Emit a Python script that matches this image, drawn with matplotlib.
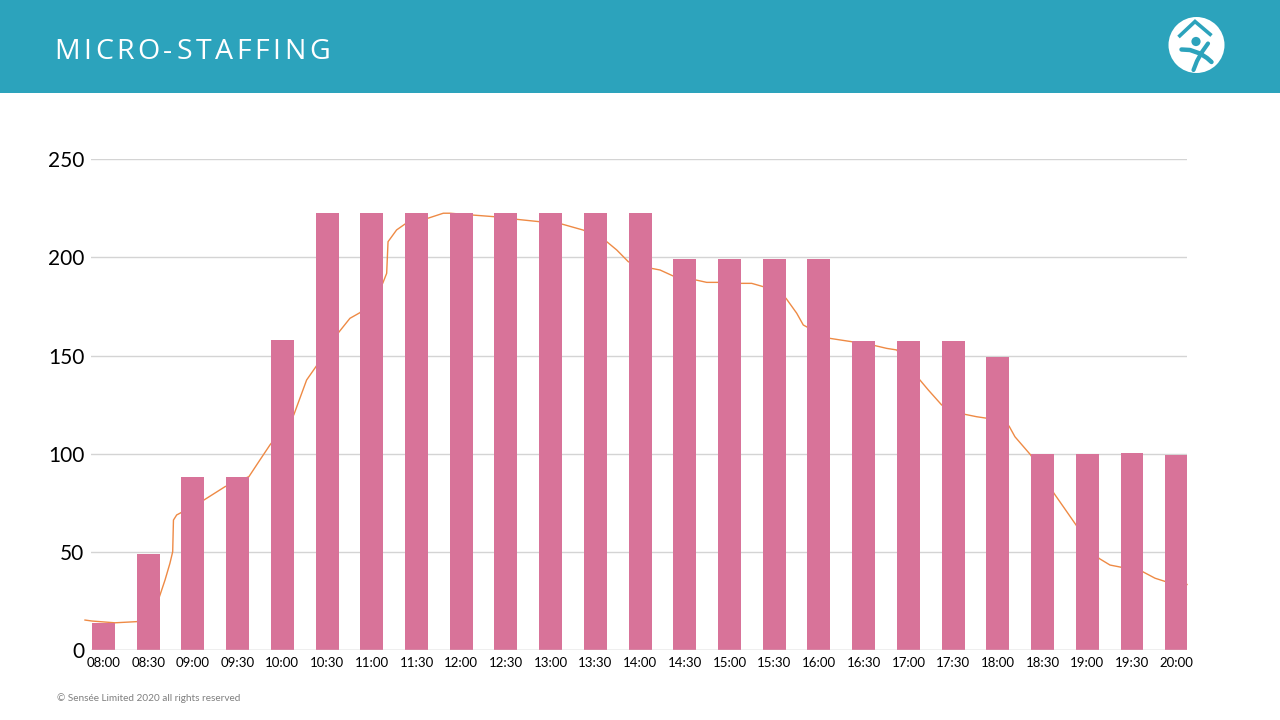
import matplotlib
matplotlib.use("Agg")
import matplotlib.pyplot as plt
from matplotlib.patches import Rectangle, Circle

# ---------------- data ----------------
categories = ["08:00", "08:30", "09:00", "09:30", "10:00", "10:30", "11:00", "11:30",
              "12:00", "12:30", "13:00", "13:30", "14:00", "14:30", "15:00", "15:30",
              "16:00", "16:30", "17:00", "17:30", "18:00", "18:30", "19:00", "19:30", "20:00"]
staff = [14, 49, 88, 88, 158, 222.5, 222.5, 222.5, 222.5, 222.5, 222.5, 222.5, 222.5,
         199.3, 199.3, 199.3, 199.3, 157.5, 157.5, 157.5, 149.3, 100, 100, 100.5, 99.5]

# demand curve: minutes after 08:00 and value
line_minutes = [0, 4.6, 19.6, 34.0, 48.3, 52.3, 55.5, 57.3, 57.8, 59.9, 62.1, 77.7, 91.5,
                107.1, 114.3, 120.9, 136.4, 144.8, 150.9, 165.3, 173.1, 179.7, 194.5, 197.1,
                198.0, 203.6, 209.1, 223.9, 234.1, 238.5, 252.8, 267.9, 282.0, 296.8, 311.5,
                325.6, 340.9, 347.4, 355.0, 369.6, 375.7, 384.4, 399.2, 406.2, 413.8, 428.4,
                435.6, 443.2, 458.0, 465.0, 469.3, 472.6, 486.7, 493.3, 500.9, 516.1, 523.8,
                530.3, 545.5, 551.0, 559.7, 575.0, 582.6, 589.5, 603.7, 607.6, 617.9, 633.1,
                639.2, 647.5, 662.5, 669.7, 676.9, 691.1, 699.1, 706.3, 720]
line_values = [15.4, 14.9, 14.0, 14.6, 26.5, 35.8, 44.3, 50.2, 66.3, 68.9, 69.8, 76.5, 83.3,
               88.4, 96.9, 104.6, 119.8, 137.6, 144.4, 161.4, 169.0, 171.9, 186.8, 191.9,
               208.0, 214.0, 217.0, 219.9, 222.5, 222.5, 221.6, 220.7, 219.4, 218.2, 217.0,
               213.9, 208.0, 203.8, 197.8, 194.5, 193.6, 190.5, 188.5, 187.3, 187.3, 186.8,
               186.8, 185.1, 179.2, 171.6, 165.6, 164.2, 158.8, 158.0, 157.1, 155.1, 153.7,
               152.9, 137.6, 132.5, 124.9, 120.1, 118.9, 118.1, 114.2, 108.7, 99.4, 79.9,
               73.1, 63.8, 46.8, 43.4, 42.3, 40.0, 36.7, 34.9, 33.5]
y_ticks = [0, 50, 100, 150, 200, 250]

title = "MICRO-STAFFING"
footer = "© Sensée Limited 2020 all rights reserved"

# ---------------- styles ----------------
TEAL = "#2CA3BC"
PINK = "#D87399"
ORANGE = "#EE8A45"
GRID = "#D4D4D4"

W, H = 1280, 720
fig = plt.figure(figsize=(W / 100, H / 100), dpi=100)
fig.patch.set_facecolor("white")


def fx(px):
    return px / W


def fy(py):
    return 1 - py / H


# header band
fig.patches.append(Rectangle((0, fy(93)), 1, 93 / H, transform=fig.transFigure,
                             facecolor=TEAL, edgecolor="none", zorder=0))

# letter-spaced title
renderer = fig.canvas.get_renderer()
tracking = 3.6  # px between letters
cursor = 54.0
for ch in title:
    t = fig.text(fx(cursor), fy(52), ch, color="white", fontsize=20.5,
                 family="Open Sans", va="center", ha="left", zorder=5)
    w = t.get_window_extent(renderer=renderer).width
    cursor += w + tracking

# logo
logo = fig.add_axes([fx(1166), fy(75), 60 / W, 60 / H], zorder=10)
logo.set_xlim(0, 60)
logo.set_ylim(60, 0)
logo.axis("off")
logo.add_patch(Circle((30.5, 30), 28, facecolor="white", edgecolor="none"))
logo.plot([12.5, 29, 45.5], [22, 6.5, 20.5], color=TEAL, lw=2.6, solid_capstyle="butt",
          solid_joinstyle="miter")
logo.add_patch(Circle((30, 26.5), 4.6, facecolor=TEAL, edgecolor="none"))
logo.plot([15.5, 24, 34, 41, 45.5], [34.5, 35, 38.5, 43, 47], color=TEAL, lw=3.2,
          solid_capstyle="round")
logo.plot([42, 36, 31, 27.5], [28.5, 37, 46, 55], color=TEAL, lw=3.0,
          solid_capstyle="round")

# main plot area
L, R, T, B = 90.5, 1187, 159.2, 650.3
ax = fig.add_axes([fx(L), fy(B), (R - L) / W, (B - T) / H])
ax.set_ylim(0, 250)
ax.set_xlim(3.6, 720)
ax.set_yticks(y_ticks)
ax.yaxis.grid(True, color=GRID, lw=1)
ax.set_axisbelow(True)
for s in ax.spines.values():
    s.set_visible(False)
ax.tick_params(axis="y", length=0, pad=4.5, labelsize=15, labelcolor="black")
ax.set_xticks([])
for lab in ax.get_yticklabels():
    lab.set_family("Lato")
ax.plot(line_minutes, line_values, color=ORANGE, lw=1.0, clip_on=False, zorder=2)

# bars on a twin axis (drawn over the line)
ax2 = ax.twiny()
x = list(range(len(categories)))
ax2.set_xlim(-0.29, len(categories) - 1 + 0.23)
ax2.bar(x, staff, width=0.514, color=PINK, zorder=3)
ax2.xaxis.set_ticks_position("bottom")
ax2.xaxis.set_label_position("bottom")
ax2.set_xticks(x)
ax2.set_xticklabels(categories, fontsize=9.5, family="Lato")
ax2.tick_params(axis="x", length=0, pad=5)
for s in ax2.spines.values():
    s.set_visible(False)
ax2.axhline(0, color=GRID, lw=1, zorder=4)

fig.text(fx(57), fy(698), footer, fontsize=7.2, color="#7F7F7F", family="Lato",
         va="center", ha="left")

fig.savefig("out.png", dpi=100)
